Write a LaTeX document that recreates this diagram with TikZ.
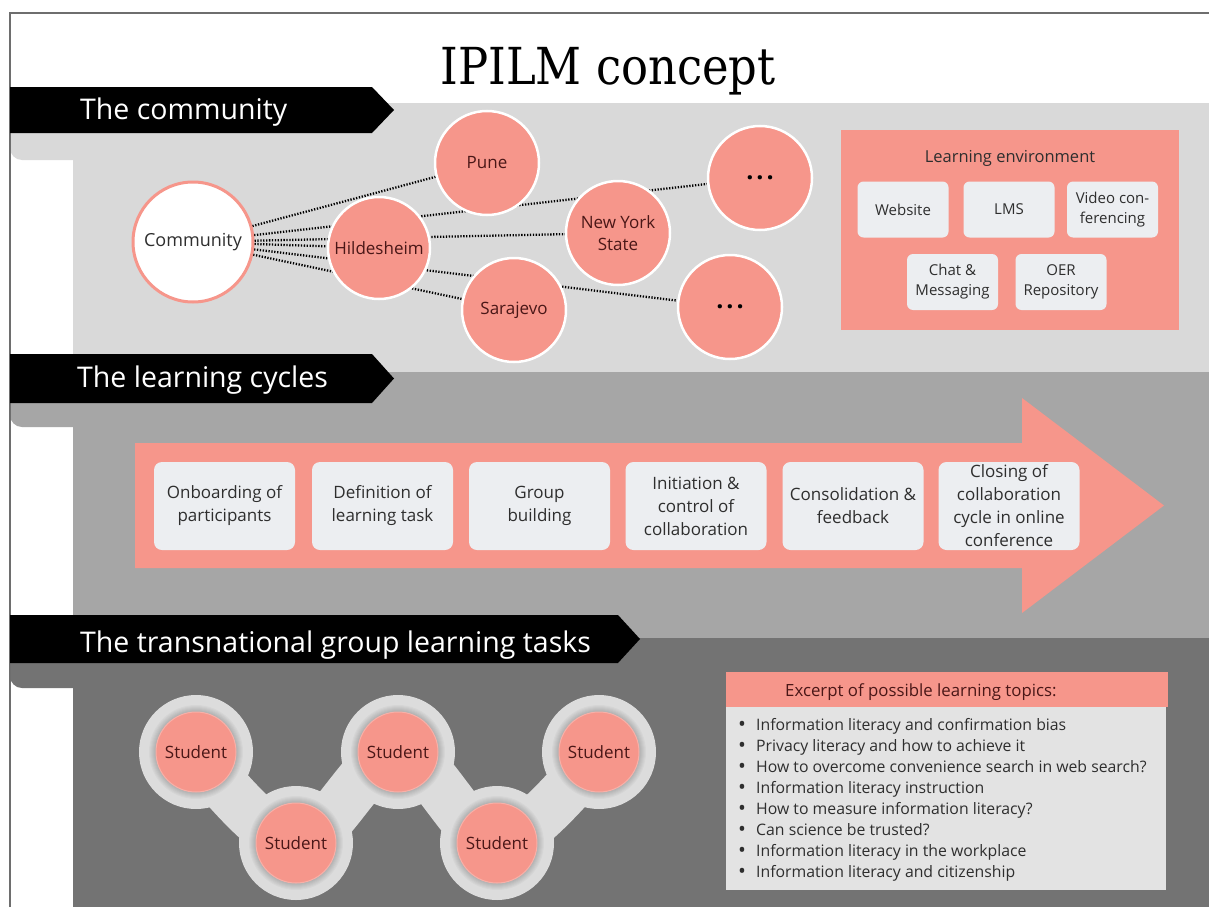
\documentclass[tikz,border=0pt]{standalone}
\usepackage{fontspec}
\setmainfont{Open Sans}
\newfontfamily\titlefont[FakeStretch=0.88]{DejaVu Serif}
\definecolor{salmon}{HTML}{F6968B}
\definecolor{bandA}{HTML}{D9D9D9}
\definecolor{bandB}{HTML}{A6A6A6}
\definecolor{bandC}{HTML}{737373}
\definecolor{card}{HTML}{ECEEF1}
\definecolor{ink}{HTML}{2E2E2E}
\definecolor{wine}{HTML}{4A1717}
\definecolor{ring}{HTML}{DCDCDC}
\definecolor{listbg}{HTML}{E3E3E3}
\definecolor{frame}{HTML}{6E6E6E}
\newcommand\setfs[2]{\fontsize{#1}{#2}\selectfont}
\newcommand\topicdot{\makebox[18pt][l]{\raisebox{-1.2pt}{\setfs{21}{21}\textbullet}}}
\pgfdeclarelayer{back}
\pgfdeclarelayer{links}
\pgfsetlayers{back,links,main}
\tikzset{
  bannertext/.style={anchor=base west, text=white, font=\setfs{28.5}{34}, inner sep=0},
  city/.style={circle, fill=salmon, draw=white, line width=2.5pt, minimum size=104pt,
    inner sep=0, text=wine, font=\setfs{17}{22}, align=center},
  link/.style={line width=2.3pt, dash pattern=on 1.3pt off 1.6pt, black},
  envcard/.style={rectangle, rounded corners=6pt, fill=card, minimum width=91pt,
    minimum height=56pt, inner sep=0, text=ink, font=\setfs{15}{20}, align=center},
  cyclecard/.style={rectangle, rounded corners=8pt, fill=card, minimum width=141pt,
    minimum height=88pt, inner sep=0, text=ink, font=\setfs{17}{23}, align=center},
  student/.style={circle, fill=salmon, draw=salmon!75!white, line width=1pt,
    minimum size=80pt, inner sep=0, text=wine, font=\setfs{17}{22}},
  topic/.style={anchor=base west, inner sep=0, text=ink, font=\setfs{15.8}{20}},
}
\begin{document}
\begin{tikzpicture}[x=1pt, y=-1pt]
\useasboundingbox (0,0) rectangle (1209,907);

% ---------- background bands, tabs, frame and banners ----------
\begin{pgfonlayer}{back}
  \fill[white] (0,0) rectangle (1209,907);
  \fill[bandA, rounded corners=12pt] (10,120) rectangle (90,160);
  \fill[bandB, rounded corners=12pt] (10,390) rectangle (90,427);
  \fill[bandC, rounded corners=12pt] (10,650) rectangle (90,688);
  \fill[bandA] (73,103) rectangle (1209,372);
  \fill[bandB] (73,372) rectangle (1209,638);
  \fill[bandC] (73,638) rectangle (1209,907);
  \draw[frame, line width=1.2pt] (10,907) -- (10,13) -- (1209,13);
  \fill[black] (10,87) -- (372,87) -- (394,110) -- (372,133) -- (10,133) -- cycle;
  \fill[black] (10,354) -- (372,354) -- (394,378.5) -- (372,403) -- (10,403) -- cycle;
  \fill[black] (10,615) -- (618,615) -- (640,639) -- (618,663) -- (10,663) -- cycle;
\end{pgfonlayer}

% ---------- title and section captions ----------
\node[anchor=base, inner sep=0, font=\titlefont\setfs{51}{60}] (title) at (608,84) {IPILM concept};
\node[bannertext] (capA) at (80,119) {The community};
\node[bannertext] (capB) at (77,387) {The learning cycles};
\node[bannertext] (capC) at (80,652) {The transnational group learning tasks};

% ---------- the community ----------
\node[city, fill=white, draw=salmon, line width=3pt, minimum size=120pt, text=ink,
      font=\setfs{18}{22}] (comm) at (193,242) {Community};
\node[city, minimum size=102pt] (hild) at (379,248) {Hildesheim};
\node[city] (pune) at (487,163) {Pune};
\node[city] (nys) at (618,233) {New York\\State};
\node[city] (sara) at (514,310) {Sarajevo};
\node[city, text=black, font=\bfseries\setfs{25}{25}] (moreA) at (760,178) {.\hspace{3pt}.\hspace{3pt}.};
\node[city, text=black, font=\bfseries\setfs{25}{25}] (moreB) at (730,307) {.\hspace{3pt}.\hspace{3pt}.};

\begin{pgfonlayer}{links}
  \foreach \t in {pune,hild,nys,sara,moreA,moreB}
    \draw[link] (comm) -- (\t);
\end{pgfonlayer}

\node[fill=salmon, minimum width=338pt, minimum height=200pt, inner sep=0] (env) at (1009.5,230) {};
\node[anchor=base, inner sep=0, text=ink, font=\setfs{16.5}{20}] (envtitle) at (1010,162) {Learning environment};
\node[envcard] (web)   at (903,209.5)   {Website};
\node[envcard] (lms)   at (1009,209.5)  {LMS};
\node[envcard] (video) at (1112.5,209.5) {Video con-\\ferencing};
\node[envcard] (chat)  at (952.5,282)   {Chat \&\\Messaging};
\node[envcard] (oer)   at (1061,282)    {OER\\Repository};

% ---------- the learning cycles ----------
\fill[salmon] (135,443) -- (1022,443) -- (1022,398) -- (1164,505.5)
  -- (1022,613) -- (1022,568) -- (135,568) -- cycle;
\foreach \x/\txt [count=\i] in {
    224.5/{Onboarding of\\participants},
    382.5/{Definition of\\learning task},
    539.5/{Group\\building},
    696/{Initiation \&\\control of\\collaboration},
    853/{Consolidation \&\\feedback},
    1009/{Closing of\\collaboration\\cycle in online\\conference}}
  \node[cyclecard] (cyc\i) at (\x,506) {\txt};

% ---------- the transnational group learning tasks ----------
\node[student] (s1) at (196,752) {Student};
\node[student] (s2) at (296,843) {Student};
\node[student] (s3) at (398,752) {Student};
\node[student] (s4) at (497,843) {Student};
\node[student] (s5) at (599,752) {Student};

\begin{pgfonlayer}{links}
  \draw[ring, line width=50pt, line join=round] plot[smooth, tension=0.55]
    coordinates {(s1.center) (s2.center) (s3.center) (s4.center) (s5.center)};
  \foreach \s in {s1,s2,s3,s4,s5} {
    \fill[ring] (\s) circle[radius=57];
    \foreach \r in {40,41,...,47}
      \fill[black, opacity=0.026] (\s) circle[radius=\r];
  }
\end{pgfonlayer}

\node[fill=salmon, minimum width=442pt, minimum height=35pt, anchor=north west,
      inner sep=0] (tophead) at (726,672) {};
\node[anchor=base west, inner sep=0, text=wine, font=\setfs{16.8}{20}] (toptitle)
      at (785,696) {Excerpt of possible learning topics:};
\node[fill=listbg, minimum width=440pt, minimum height=183pt, anchor=north west,
      inner sep=0] (topbody) at (726,707) {};
\foreach \txt [count=\i] in {
    Information literacy and confirmation bias,
    Privacy literacy and how to achieve it,
    How to overcome convenience search in web search?,
    Information literacy instruction,
    How to measure information literacy?,
    Can science be trusted?,
    Information literacy in the workplace,
    Information literacy and citizenship}
  \node[topic] (topic\i) at (738,{730+21*(\i-1)}) {\topicdot\txt};
\end{tikzpicture}
\end{document}
